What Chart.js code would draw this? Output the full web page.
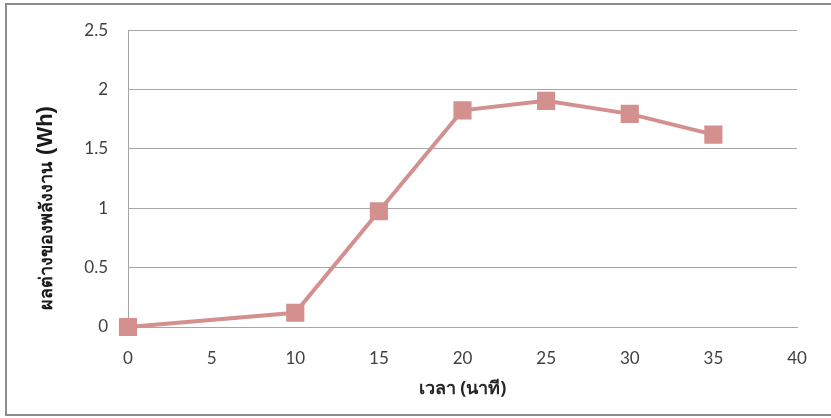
<!DOCTYPE html>
<html>
<head>
<meta charset="utf-8">
<script src="https://cdn.jsdelivr.net/npm/chart.js@4/dist/chart.umd.min.js"></script>
<style>
  body { margin: 0; background: #fff; overflow: hidden; }
  #frame { position: absolute; left: 5px; top: 3px; width: 900px; height: 409px; border: 2px solid #8c8c8c; }
  #wrap { position: absolute; left: 0; top: 0; width: 831px; height: 418px; }
</style>
</head>
<body>
<div id="frame"></div>
<div id="wrap"><canvas id="linechart" width="831" height="418"></canvas></div>
<script>
// ข้อมูลที่อ่านจากกราฟ
const times = [0, 10, 15, 20, 25, 30, 35];          // เวลา (นาที)
const energyDiff = [0, 0.12, 0.975, 1.825, 1.905, 1.795, 1.62]; // ผลต่างของพลังงาน (Wh)
const xTicks = [0, 5, 10, 15, 20, 25, 30, 35, 40];
const yTicks = [0, 0.5, 1, 1.5, 2, 2.5];
const yTitleThai = 'ผลต่างของพลังงาน';
const yTitleUnit = '(Wh)';

const tickFont = { family: "Lato, 'Open Sans', sans-serif", size: 17 };
const titleFont = "'Noto Sans', 'DejaVu Sans', Lato, sans-serif";

// ชื่อแกน Y วาดเอง เพราะส่วนหน่วย (Wh) ใหญ่กว่าตัวอักษรไทย
const yTitlePlugin = {
    id: 'yTitle',
    afterDraw(chart) {
        const c = chart.ctx;
        c.save();
        c.translate(52, 208);
        c.rotate(-Math.PI / 2);
        c.fillStyle = '#1a1a1a';
        c.textBaseline = 'alphabetic';
        c.textAlign = 'left';
        const thaiFont = "bold 18px " + titleFont;
        const unitFont = "bold 22px 'Liberation Sans', Arial, sans-serif";
        c.font = thaiFont;
        const wThai = c.measureText(yTitleThai).width;
        c.font = unitFont;
        const wUnit = c.measureText(yTitleUnit).width;
        const gap = 7;
        let x = -(wThai + gap + wUnit) / 2;
        c.font = thaiFont;
        c.fillText(yTitleThai, x, 0);
        c.font = unitFont;
        c.fillText(yTitleUnit, x + wThai + gap, 0);
        c.restore();
    }
};

const ctx = document.getElementById('linechart').getContext('2d');
new Chart(ctx, {
    type: 'line',
    data: {
        datasets: [{
            data: times.map((t, i) => ({ x: t, y: energyDiff[i] })),
            borderColor: '#d3908f',
            backgroundColor: '#d3908f',
            borderWidth: 4,
            pointStyle: 'rect',
            pointRadius: 10,
            pointHoverRadius: 10,
            tension: 0,
            clip: false
        }]
    },
    options: {
        responsive: false,
        animation: false,
        devicePixelRatio: 1,
        layout: { padding: { left: 0, top: 30, right: 34, bottom: 0 } },
        plugins: { legend: { display: false }, tooltip: { enabled: false } },
        scales: {
            x: {
                type: 'linear',
                min: xTicks[0],
                max: xTicks[xTicks.length - 1],
                afterBuildTicks: s => { s.ticks = xTicks.map(v => ({ value: v })); },
                afterFit: s => { s.height = 91; },
                grid: { display: false },
                border: { display: true, color: '#a6a6a6', width: 1 },
                ticks: { color: '#404040', font: tickFont, padding: 13, maxRotation: 0,
                         callback: v => String(v) },
                title: {
                    display: true,
                    text: 'เวลา (นาที)',
                    color: '#262626',
                    font: { family: titleFont, size: 18, weight: 'bold' },
                    padding: { top: 0, bottom: 18 }
                }
            },
            y: {
                min: yTicks[0],
                max: yTicks[yTicks.length - 1],
                afterBuildTicks: s => { s.ticks = yTicks.map(v => ({ value: v })); },
                afterFit: s => { s.width = 128; },
                grid: { color: '#a6a6a6', drawTicks: false },
                border: { display: true, color: '#a6a6a6', width: 1 },
                ticks: { color: '#404040', font: tickFont, padding: 20,
                         callback: v => String(v) },
                title: { display: false }
            }
        }
    },
    plugins: [yTitlePlugin]
});
</script>
</body>
</html>
